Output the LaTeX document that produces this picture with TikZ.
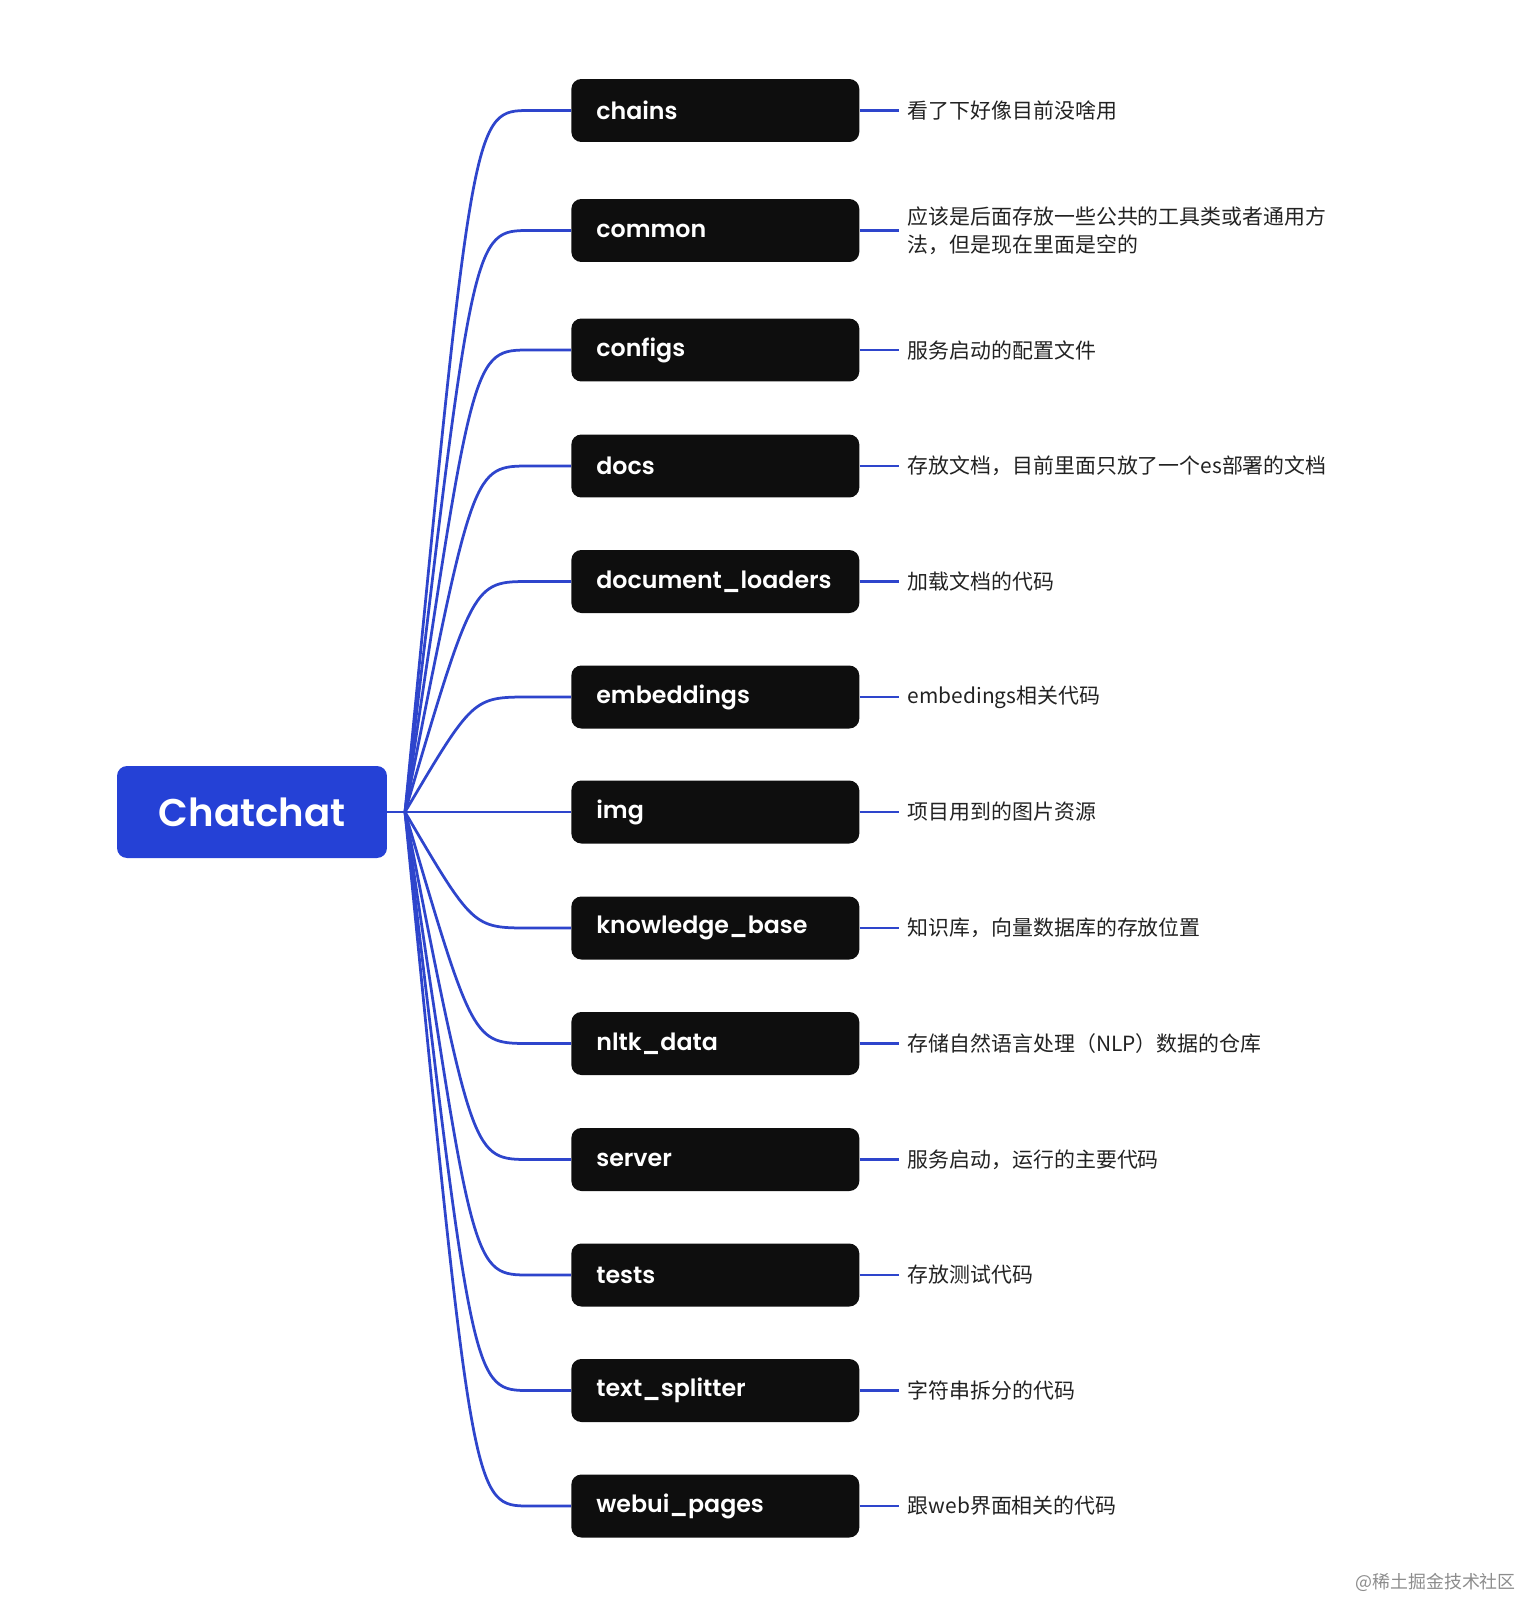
\documentclass[tikz,border=0pt]{standalone}
\usepackage{fontspec}
\setmainfont{Poppins}[BoldFont={Poppins SemiBold}]
\newfontfamily\cjk{Noto Sans CJK SC}
\usetikzlibrary{positioning,calc}
\definecolor{rootBlue}{HTML}{2541D6}
\definecolor{linkBlue}{HTML}{2E45CC}
\definecolor{boxBlack}{HTML}{0E0E0E}
\definecolor{descGray}{HTML}{222222}

\begin{document}
\begin{tikzpicture}[x=0.02cm, y=-0.02cm,
  rootbox/.style={fill=rootBlue, text=white, rounded corners=0.2cm,
    minimum width=5.4cm, minimum height=1.84cm,
    font=\fontsize{22}{26}\selectfont\bfseries},
  dirbox/.style={fill=boxBlack, text=white, rounded corners=0.2cm,
    text width=4.76cm, inner xsep=0.5cm, minimum height=1.26cm,
    align=left, anchor=west, font=\fontsize{13.5}{16}\selectfont\bfseries},
  desc/.style={text=descGray, align=left, inner xsep=0.18cm,
    font=\cjk\fontsize{11.9}{15.9}\selectfont},
  link/.style={draw=linkBlue, line width=0.055cm}]

  \useasboundingbox (0,0) rectangle (1523,1599);

  % Root
  \node[rootbox] (root) at (252,812) {Chatchat};
  \coordinate (fork) at (405,812);
  \draw[link] (root.east) -- (fork);

  % Folders: (row/y in px/name/description)
  \foreach \i/\y/\lab/\txt in {%
    0/110.5/chains/看了下好像目前没啥用,
    1/230.5/common/{应该是后面存放一些公共的工具类或者通用方\\法，但是现在里面是空的},
    2/350/configs/服务启动的配置文件,
    3/466/docs/存放文档，目前里面只放了一个es部署的文档,
    4/581.5/document\_loaders/加载文档的代码,
    5/697/embeddings/embedings相关代码,
    6/812/img/项目用到的图片资源,
    7/928/knowledge\_base/知识库，向量数据库的存放位置,
    8/1043.5/nltk\_data/存储自然语言处理（NLP）数据的仓库,
    9/1159.5/server/服务启动，运行的主要代码,
    10/1275/tests/存放测试代码,
    11/1390.5/text\_splitter/字符串拆分的代码,
    12/1506/webui\_pages/跟web界面相关的代码%
  } {%
    \node[dirbox] (b\i) at (571,\y) {\lab};
    \node[desc, right=0.78cm of b\i] (d\i) {\txt};
    \draw[link] (fork) .. controls ($(b\i.west)+(-98,0)$) .. ($(b\i.west)+(-41,0)$) -- (b\i.west);
    \draw[link] (b\i.east) -- (d\i.west);
  }

  % Watermark
  \node[anchor=east, text=black!45, font=\cjk\fontsize{10.2}{12}\selectfont] (mark) at (1522,1582) {@稀土掘金技术社区};
\end{tikzpicture}
\end{document}
